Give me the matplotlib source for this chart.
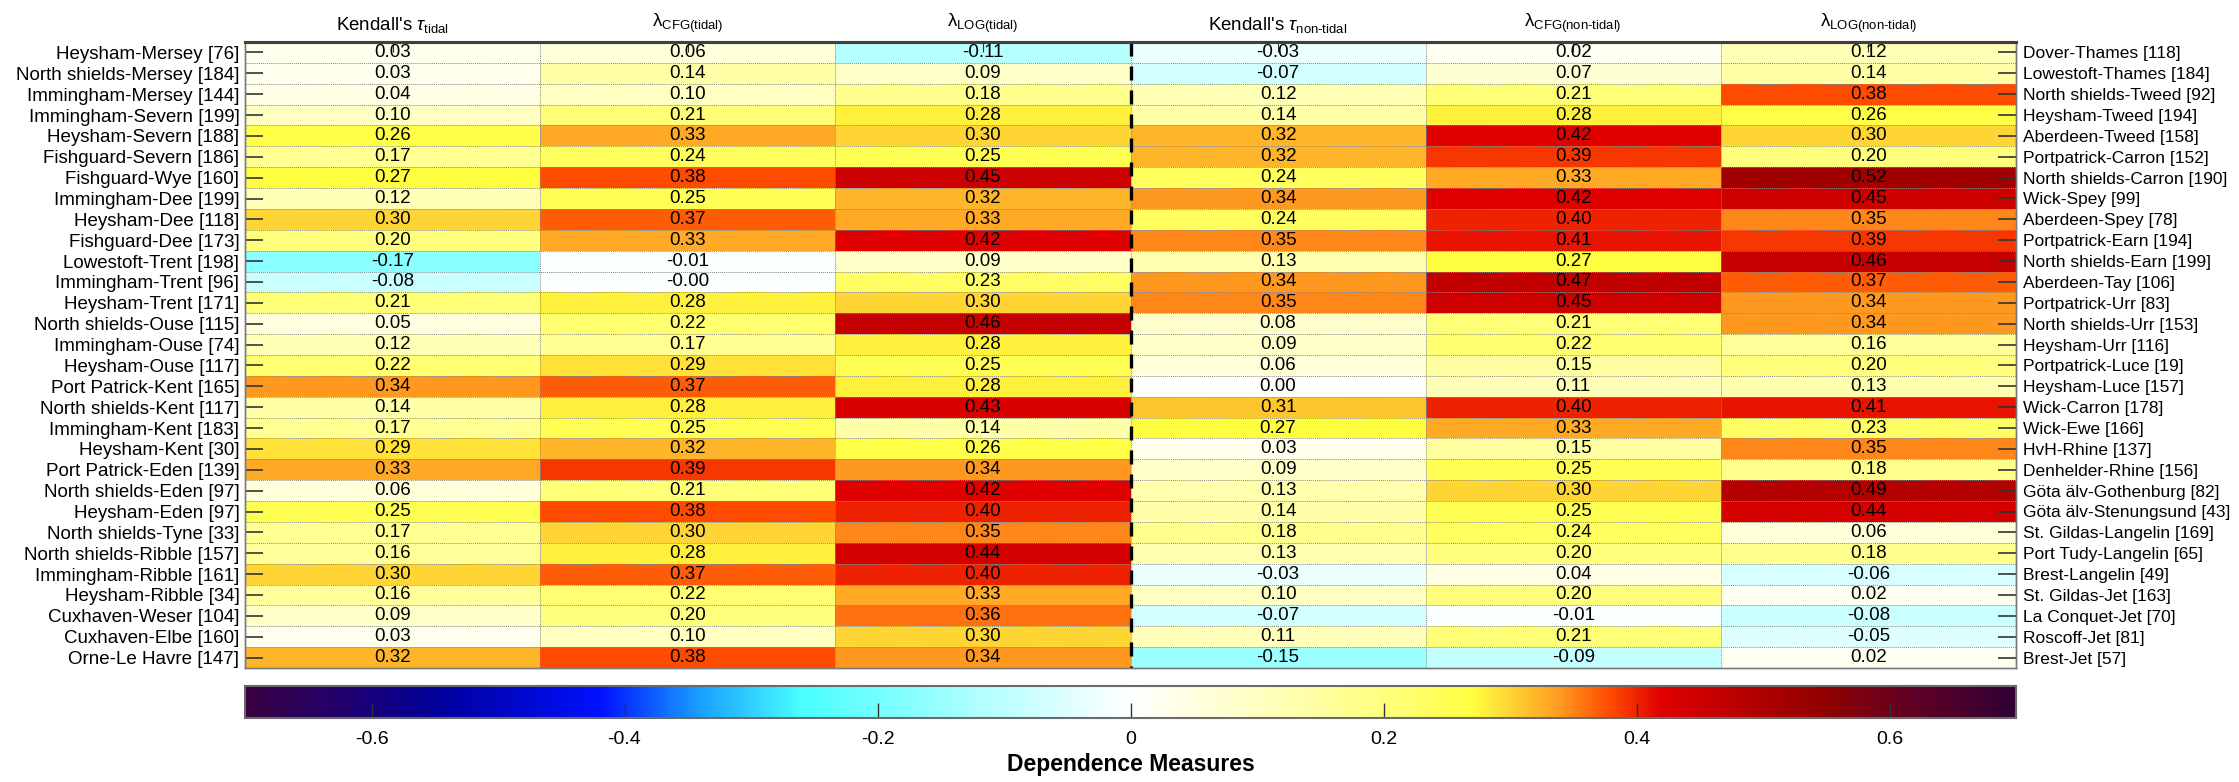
import numpy as np
import matplotlib
matplotlib.use("Agg")
import matplotlib.pyplot as plt
from matplotlib.colors import LinearSegmentedColormap, Normalize
from matplotlib.cm import ScalarMappable

plt.rcParams['font.family'] = ['Liberation Sans', 'DejaVu Sans']
plt.rcParams['mathtext.fontset'] = 'custom'
plt.rcParams['mathtext.rm'] = 'Liberation Sans'
plt.rcParams['mathtext.it'] = 'Liberation Sans:italic'
plt.rcParams['mathtext.bf'] = 'Liberation Sans:bold'

# ---------------- data ----------------
left_labels = [
    "Heysham-Mersey [76]", "North shields-Mersey [184]", "Immingham-Mersey [144]",
    "Immingham-Severn [199]", "Heysham-Severn [188]", "Fishguard-Severn [186]",
    "Fishguard-Wye [160]", "Immingham-Dee [199]", "Heysham-Dee [118]",
    "Fishguard-Dee [173]", "Lowestoft-Trent [198]", "Immingham-Trent [96]",
    "Heysham-Trent [171]", "North shields-Ouse [115]", "Immingham-Ouse [74]",
    "Heysham-Ouse [117]", "Port Patrick-Kent [165]", "North shields-Kent [117]",
    "Immingham-Kent [183]", "Heysham-Kent [30]", "Port Patrick-Eden [139]",
    "North shields-Eden [97]", "Heysham-Eden [97]", "North shields-Tyne [33]",
    "North shields-Ribble [157]", "Immingham-Ribble [161]", "Heysham-Ribble [34]",
    "Cuxhaven-Weser [104]", "Cuxhaven-Elbe [160]", "Orne-Le Havre [147]",
]
right_labels = [
    "Dover-Thames [118]", "Lowestoft-Thames [184]", "North shields-Tweed [92]",
    "Heysham-Tweed [194]", "Aberdeen-Tweed [158]", "Portpatrick-Carron [152]",
    "North shields-Carron [190]", "Wick-Spey [99]", "Aberdeen-Spey [78]",
    "Portpatrick-Earn [194]", "North shields-Earn [199]", "Aberdeen-Tay [106]",
    "Portpatrick-Urr [83]", "North shields-Urr [153]", "Heysham-Urr [116]",
    "Portpatrick-Luce [19]", "Heysham-Luce [157]", "Wick-Carron [178]",
    "Wick-Ewe [166]", "HvH-Rhine [137]", "Denhelder-Rhine [156]",
    "Göta älv-Gothenburg [82]", "Göta älv-Stenungsund [43]", "St. Gildas-Langelin [169]",
    "Port Tudy-Langelin [65]", "Brest-Langelin [49]", "St. Gildas-Jet [163]",
    "La Conquet-Jet [70]", "Roscoff-Jet [81]", "Brest-Jet [57]",
]
column_labels = [
    r"Kendall's $\tau_{\mathregular{tidal}}$",
    r"$\mathregular{\lambda}_{\mathregular{CFG(tidal)}}$",
    r"$\mathregular{\lambda}_{\mathregular{LOG(tidal)}}$",
    r"Kendall's $\tau_{\mathregular{non\text{-}tidal}}$",
    r"$\mathregular{\lambda}_{\mathregular{CFG(non\text{-}tidal)}}$",
    r"$\mathregular{\lambda}_{\mathregular{LOG(non\text{-}tidal)}}$",
]

tau_tidal = [0.03, 0.03, 0.04, 0.10, 0.26, 0.17, 0.27, 0.12, 0.30, 0.20,
             -0.17, -0.08, 0.21, 0.05, 0.12, 0.22, 0.34, 0.14, 0.17, 0.29,
             0.33, 0.06, 0.25, 0.17, 0.16, 0.30, 0.16, 0.09, 0.03, 0.32]
cfg_tidal = [0.06, 0.14, 0.10, 0.21, 0.33, 0.24, 0.38, 0.25, 0.37, 0.33,
             -0.01, -0.004, 0.28, 0.22, 0.17, 0.29, 0.37, 0.28, 0.25, 0.32,
             0.39, 0.21, 0.38, 0.30, 0.28, 0.37, 0.22, 0.20, 0.10, 0.38]
log_tidal = [-0.11, 0.09, 0.18, 0.28, 0.30, 0.25, 0.45, 0.32, 0.33, 0.42,
             0.09, 0.23, 0.30, 0.46, 0.28, 0.25, 0.28, 0.43, 0.14, 0.26,
             0.34, 0.42, 0.40, 0.35, 0.44, 0.40, 0.33, 0.36, 0.30, 0.34]
tau_nontidal = [-0.03, -0.07, 0.12, 0.14, 0.32, 0.32, 0.24, 0.34, 0.24, 0.35,
                0.13, 0.34, 0.35, 0.08, 0.09, 0.06, 0.00, 0.31, 0.27, 0.03,
                0.09, 0.13, 0.14, 0.18, 0.13, -0.03, 0.10, -0.07, 0.11, -0.15]
cfg_nontidal = [0.02, 0.07, 0.21, 0.28, 0.42, 0.39, 0.33, 0.42, 0.40, 0.41,
                0.27, 0.47, 0.45, 0.21, 0.22, 0.15, 0.11, 0.40, 0.33, 0.15,
                0.25, 0.30, 0.25, 0.24, 0.20, 0.04, 0.20, -0.01, 0.21, -0.09]
log_nontidal = [0.12, 0.14, 0.38, 0.26, 0.30, 0.20, 0.52, 0.45, 0.35, 0.39,
                0.46, 0.37, 0.34, 0.34, 0.16, 0.20, 0.13, 0.41, 0.23, 0.35,
                0.18, 0.49, 0.44, 0.06, 0.18, -0.06, 0.02, -0.08, -0.05, 0.02]

cbar_ticks = [-0.6, -0.4, -0.2, 0, 0.2, 0.4, 0.6]
cbar_ticklabels = ["-0.6", "-0.4", "-0.2", "0", "0.2", "0.4", "0.6"]

# ---------------- colormap ----------------
vmin, vmax = -0.7, 0.7
nodes = [
    (-0.70, "#380040"), (-0.62, "#200070"), (-0.55, "#00009a"), (-0.42, "#0010ff"),
    (-0.34, "#1aa0ff"), (-0.26, "#48ffff"), (-0.12, "#b0ffff"), (0.00, "#ffffff"),
    (0.14, "#ffffa8"), (0.22, "#ffff70"), (0.27, "#ffff40"), (0.30, "#ffd535"),
    (0.34, "#ff9a20"), (0.38, "#ff4a00"), (0.42, "#e00000"), (0.55, "#900000"),
    (0.62, "#600025"), (0.70, "#300035"),
]
cmap = LinearSegmentedColormap.from_list(
    "dep", [((v - vmin) / (vmax - vmin), c) for v, c in nodes], N=512)
norm = Normalize(vmin=vmin, vmax=vmax)

data = np.column_stack([tau_tidal, cfg_tidal, log_tidal,
                        tau_nontidal, cfg_nontidal, log_nontidal])
nrow, ncol = data.shape

# ---------------- figure ----------------
W, H = 2239, 782
fig = plt.figure(figsize=(W / 100, H / 100), dpi=100)

def frac(l, t, r, b):
    return [l / W, 1 - b / H, (r - l) / W, (b - t) / H]

ax = fig.add_axes(frac(245, 42, 2016, 668))
ax.pcolormesh(np.arange(ncol + 1), np.arange(nrow + 1), data, cmap=cmap, norm=norm,
              shading='flat')
ax.set_xlim(0, ncol)
ax.set_ylim(nrow, 0)

# grid separators
ax.hlines(np.arange(1, nrow), 0, ncol, colors="#8a8a8a", linewidth=0.7, linestyles=(0, (1, 1)))
ax.vlines(np.arange(1, ncol), 0, nrow, colors="#8a8a8a", linewidth=0.7, linestyles=(0, (1, 1)))
# dashed divider
ax.vlines([3], 0, nrow, colors="black", linewidth=2.4, linestyles=(0, (4.2, 3.0)))

for i in range(nrow):
    for j in range(ncol):
        ax.text(j + 0.5, i + 0.5, f"{data[i, j]:.2f}", ha="center", va="center",
                fontsize=13.5, color="black")

# top ticks / header
ax.xaxis.tick_top()
ax.set_xticks(np.arange(ncol) + 0.5)
ax.set_xticklabels(column_labels, fontsize=13.5)
ax.tick_params(axis="x", direction="in", length=7, width=0.8, pad=5, colors="#333333",
               labelcolor="black")

ax.set_yticks(np.arange(nrow) + 0.5)
ax.set_yticklabels(left_labels, fontsize=13.5)
ax.tick_params(axis="y", direction="in", length=13, width=1.2, pad=4, colors="#333333",
               labelcolor="black")

ax2 = ax.twinx()
ax2.set_ylim(nrow, 0)
ax2.set_yticks(np.arange(nrow) + 0.5)
ax2.set_yticklabels(right_labels, fontsize=12.5)
ax2.tick_params(axis="y", direction="in", length=13, width=1.2, pad=5, colors="#333333",
                labelcolor="black")

for a in (ax, ax2):
    for s in ("left", "right", "bottom"):
        a.spines[s].set_color("#7a7a7a")
        a.spines[s].set_linewidth(1.0)
    a.spines["top"].set_color("#404040")
    a.spines["top"].set_linewidth(2.2)

# colorbar
cax = fig.add_axes(frac(245, 686, 2016, 718))
sm = ScalarMappable(norm=norm, cmap=cmap)
cb = fig.colorbar(sm, cax=cax, orientation="horizontal")
cb.set_ticks(cbar_ticks)
cb.set_ticklabels(cbar_ticklabels)
cb.outline.set_edgecolor("#6a6a6a")
cb.outline.set_linewidth(1.5)
cax.tick_params(axis="x", direction="in", length=11, width=1.0, colors="#333333",
                labelcolor="black", labelsize=14, pad=9)
cax.set_xlabel("Dependence Measures", fontsize=16.5, fontweight="bold", labelpad=4)

fig.savefig("out.png", dpi=100)
